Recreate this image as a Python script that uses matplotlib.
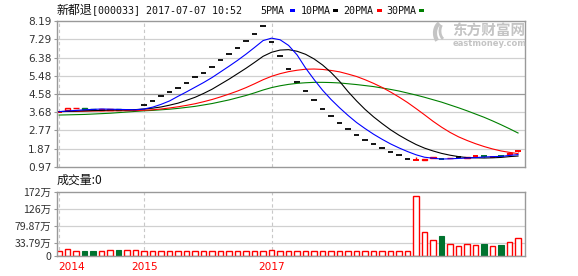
import matplotlib
matplotlib.use('Agg')
import matplotlib.pyplot as plt
from matplotlib.patches import Rectangle, Arc

# ---------------- data ----------------
opens = [3.70, 3.78, 3.87, 3.89, 3.85, 3.79, 3.80, 3.82, 3.78, 3.80,
         4.01, 4.23, 4.48, 4.67, 4.89, 5.12, 5.40, 5.63, 5.93, 6.25,
         6.54, 6.84, 7.20, 7.56, 7.95, 7.14, 6.47, 5.80, 5.18, 4.72,
         4.28, 3.82, 3.48, 3.15, 2.82, 2.54, 2.29, 2.10, 1.88, 1.68,
         1.55, 1.37, 1.30, 1.29, 1.41, 1.36, 1.38, 1.43, 1.42, 1.50,
         1.51, 1.46, 1.51, 1.58, 1.72]
closes = [3.70, 3.88, 3.89, 3.85, 3.81, 3.81, 3.83, 3.79, 3.80, 3.80,
          4.01, 4.23, 4.48, 4.67, 4.89, 5.12, 5.40, 5.63, 5.93, 6.25,
          6.54, 6.84, 7.20, 7.56, 7.95, 7.14, 6.47, 5.80, 5.18, 4.72,
          4.28, 3.82, 3.48, 3.15, 2.82, 2.54, 2.29, 2.10, 1.88, 1.68,
          1.55, 1.37, 1.30, 1.33, 1.43, 1.35, 1.40, 1.43, 1.44, 1.50,
          1.50, 1.47, 1.50, 1.66, 1.73]
highs = [3.74, 3.90, 3.89, 3.89, 3.85, 3.81, 3.83, 3.82, 3.80, 3.84,
         4.01, 4.23, 4.48, 4.67, 4.89, 5.12, 5.40, 5.63, 5.93, 6.25,
         6.54, 6.84, 7.20, 7.56, 7.95, 7.14, 6.47, 5.80, 5.18, 4.72,
         4.28, 3.82, 3.48, 3.15, 2.82, 2.54, 2.29, 2.10, 1.88, 1.68,
         1.55, 1.37, 1.46, 1.33, 1.43, 1.39, 1.40, 1.43, 1.44, 1.53,
         1.53, 1.47, 1.53, 1.67, 1.77]
lows = [3.66, 3.76, 3.87, 3.85, 3.81, 3.79, 3.80, 3.79, 3.78, 3.77,
        4.01, 4.23, 4.48, 4.67, 4.89, 5.12, 5.40, 5.63, 5.93, 6.25,
        6.54, 6.84, 7.20, 7.56, 7.95, 7.14, 6.47, 5.80, 5.18, 4.72,
        4.28, 3.82, 3.48, 3.15, 2.82, 2.54, 2.29, 2.10, 1.88, 1.68,
        1.55, 1.37, 1.30, 1.29, 1.41, 1.33, 1.38, 1.43, 1.42, 1.47,
        1.47, 1.46, 1.48, 1.57, 1.69]

ma5 = [3.70, 3.73, 3.76, 3.79, 3.81, 3.83, 3.82, 3.81, 3.80, 3.79,
       3.83, 3.92, 4.06, 4.23, 4.46, 4.68, 4.91, 5.14, 5.39, 5.67,
       5.95, 6.24, 6.55, 6.88, 7.22, 7.34, 7.26, 6.98, 6.51, 5.86,
       5.29, 4.76, 4.30, 3.89, 3.51, 3.16, 2.86, 2.58, 2.33, 2.10,
       1.90, 1.72, 1.56, 1.44, 1.39, 1.35, 1.36, 1.38, 1.40, 1.42,
       1.45, 1.47, 1.48, 1.53, 1.57]
ma10 = [3.70, 3.71, 3.73, 3.74, 3.75, 3.76, 3.78, 3.78, 3.79, 3.80,
        3.83, 3.87, 3.93, 4.02, 4.12, 4.26, 4.41, 4.60, 4.81, 5.06,
        5.31, 5.58, 5.85, 6.14, 6.44, 6.64, 6.75, 6.77, 6.69, 6.54,
        6.31, 6.01, 5.64, 5.20, 4.69, 4.23, 3.81, 3.44, 3.11, 2.80,
        2.53, 2.29, 2.07, 1.89, 1.75, 1.63, 1.54, 1.47, 1.42, 1.41,
        1.40, 1.41, 1.43, 1.47, 1.50]
ma20 = [3.70, 3.71, 3.71, 3.72, 3.73, 3.73, 3.74, 3.74, 3.75, 3.75,
        3.77, 3.79, 3.83, 3.88, 3.94, 4.01, 4.09, 4.19, 4.30, 4.43,
        4.57, 4.72, 4.89, 5.08, 5.28, 5.45, 5.58, 5.68, 5.75, 5.80,
        5.81, 5.79, 5.74, 5.67, 5.56, 5.44, 5.28, 5.10, 4.90, 4.67,
        4.42, 4.15, 3.85, 3.54, 3.22, 2.93, 2.67, 2.45, 2.27, 2.11,
        1.97, 1.85, 1.75, 1.68, 1.62]
ma30 = [3.53, 3.54, 3.55, 3.56, 3.58, 3.60, 3.62, 3.65, 3.68, 3.71,
        3.74, 3.76, 3.79, 3.82, 3.86, 3.91, 3.96, 4.03, 4.10, 4.19,
        4.28, 4.39, 4.50, 4.63, 4.77, 4.89, 4.98, 5.05, 5.10, 5.13,
        5.15, 5.15, 5.14, 5.12, 5.08, 5.04, 4.99, 4.94, 4.87, 4.80,
        4.72, 4.62, 4.52, 4.41, 4.29, 4.17, 4.03, 3.89, 3.74, 3.58,
        3.42, 3.24, 3.05, 2.85, 2.64]

volumes = [14, 19.5, 14, 12.5, 12.5, 12.5, 15, 15, 15, 15,
           12.5, 12.5, 12.5, 12.5, 12.5, 12.5, 12.5, 12.5, 12.5, 12.5,
           12.5, 12.5, 12.5, 12.5, 12.5, 17, 12.5, 12.5, 12.5, 12.5,
           12.5, 12.5, 12.5, 12.5, 12.5, 12.5, 12.5, 12.5, 14.5, 14.5,
           12.5, 12.5, 160, 63, 42, 53.5, 32, 26, 31, 28.5,
           32, 26, 29.4, 37.4, 47.3]
vol_down = [False, False, False, True, True, False, False, True, False, False,
            False, False, False, False, False, False, False, False, False, False,
            False, False, False, False, False, False, False, False, False, False,
            False, False, False, False, False, False, False, False, False, False,
            False, False, False, False, False, True, False, False, False, False,
            True, False, True, False, False]

price_ticks = [0.97, 1.87, 2.77, 3.68, 4.58, 5.48, 6.38, 7.29, 8.19]
price_labels = ['0.97', '1.87', '2.77', '3.68', '4.58', '5.48', '6.38', '7.29', '8.19']
vol_ticks = [0, 33.79, 79.87, 126, 172]
vol_labels = ['0', '33.79万', '79.87万', '126万', '172万']
year_pos = [0, 10, 25]
year_labels = ['2014', '2015', '2017']
title_cn = '新都退'
title_rest = '[000033] 2017-07-07 10:52'
legend_names = ['5PMA', '10PMA', '20PMA', '30PMA']

# ---------------- styling ----------------
W, H = 578, 276
RED = '#ff0000'
GREEN_BAR = '#00732f'
MA_COLORS = ['#0000ff', '#000000', '#ff0000', '#008000']
GRID = '#d0d0d0'
FRAME = '#999999'
WM = '#c4c4c4'
CJK = ['Noto Sans CJK SC', 'DejaVu Sans']
MONO = ['DejaVu Sans Mono', 'Noto Sans CJK SC']

fig = plt.figure(figsize=(W / 100, H / 100), dpi=100)
fig.patch.set_facecolor('white')


def fx(px):
    return px / W


def fy(py):
    return 1 - py / H


L, R = 57, 525
ax = fig.add_axes([fx(L), fy(166.7), (R - L) / W, (166.7 - 21) / H])
axv = fig.add_axes([fx(L), fy(256), (R - L) / W, (256 - 191.7) / H])

n = len(closes)
xs = list(range(n))
xlim = (-0.25, 54.82)
cw = 0.62

for a in (ax, axv):
    a.set_xlim(*xlim)
    for s in a.spines.values():
        s.set_color(FRAME)
        s.set_linewidth(1.0)
    a.set_xticks([])
    a.tick_params(axis='y', length=2.5, width=0.8, color=FRAME, pad=1.5,
                  labelsize=7.6, labelcolor='#333333')
    for p in year_pos:
        a.axvline(p, color='#c8c8c8', lw=0.8, ls=(0, (3, 2.5)), zorder=0.5)

# price axis
ax.set_ylim(price_ticks[0], price_ticks[-1])
ax.set_yticks(price_ticks)
ax.set_yticklabels(price_labels)
for t in price_ticks[1:-1]:
    col = FRAME if t == 4.58 else GRID
    ax.axhline(t, color=col, lw=0.9, zorder=0.6)

# candles
for i in xs:
    o, c, h, l = opens[i], closes[i], highs[i], lows[i]
    if h == l:
        ax.hlines(c, i - cw / 2, i + cw / 2, color='black', lw=1.3, zorder=2)
        continue
    col = RED if c >= o else GREEN_BAR
    ax.vlines(i, l, h, color=col, lw=1.0, zorder=2)
    if abs(c - o) < 0.015:
        ax.hlines(c, i - cw / 2, i + cw / 2, color=col, lw=1.4, zorder=2.1)
    elif c > o:
        ax.add_patch(Rectangle((i - cw / 2, o), cw, c - o, facecolor='white',
                               edgecolor=col, lw=1.0, zorder=2.1))
    else:
        ax.add_patch(Rectangle((i - cw / 2, c), cw, o - c, facecolor=col,
                               edgecolor=col, lw=1.0, zorder=2.1))

for ma, col in zip([ma30, ma20, ma10, ma5], MA_COLORS[::-1]):
    ax.plot(xs, ma, color=col, lw=0.8, zorder=3)

# volume axis
axv.set_ylim(0, 172)
axv.set_yticks(vol_ticks)
axv.set_yticklabels(vol_labels, family=CJK)
for t in vol_ticks[1:-1]:
    axv.axhline(t, color=GRID, lw=0.9, zorder=0.6)
for i in xs:
    if vol_down[i]:
        axv.bar(i, volumes[i], width=cw, facecolor=GREEN_BAR, edgecolor=GREEN_BAR,
                lw=0.8, zorder=2)
    else:
        axv.bar(i, volumes[i], width=cw, facecolor='white', edgecolor=RED,
                lw=1.0, zorder=2)

# year labels
for p, lab in zip(year_pos, year_labels):
    ha = 'left' if p == 0 else 'center'
    xx = p - 0.05 if p == 0 else p
    axv.text(xx, -0.17, lab, transform=axv.get_xaxis_transform(), ha=ha,
             va='center', color=RED, fontsize=7.6)

# titles
fig.text(fx(56.5), fy(10.5), title_cn, family=CJK, fontsize=8.6, va='center',
         ha='left', color='#111111')
fig.text(fx(91.5), fy(10.5), title_rest, family=MONO, fontsize=7.2, va='center',
         ha='left', color='#111111')
leg_x = [260, 300.7, 343.3, 386.7]
mark_x = [290, 333.3, 376.7, 419.3]
for lx, mx, name, col in zip(leg_x, mark_x, legend_names, MA_COLORS):
    fig.text(fx(lx), fy(10.5), name, family=MONO, fontsize=7.2, va='center',
             ha='left', color='#111111')
    fig.patches.append(Rectangle((fx(mx), fy(12)), 5 / W, 3 / H, facecolor=col,
                                 edgecolor='none', transform=fig.transFigure,
                                 figure=fig))

fig.text(fx(57), fy(180), '成交量:0', family=CJK, fontsize=8.6, va='center',
         ha='left', color='#111111')

# watermark
fig.text(fx(452), fy(30.5), '东方财富网', family=CJK, fontsize=10.5,
         fontweight='bold', va='center', ha='left', color=WM)
fig.text(fx(453), fy(43), 'eastmoney.com', family=['DejaVu Sans'], fontsize=6.0,
         fontweight='bold', va='center', ha='left', color=WM)
# swoosh logo (decorative)
for k, (cx, cy, wd, ht, t1, t2) in enumerate([(443, 33, 16, 22, 100, 250),
                                               (446, 31, 12, 18, 110, 260)]):
    fig.patches.append(Arc((fx(cx), fy(cy)), wd / W, ht / H, theta1=t1, theta2=t2,
                           color=WM, lw=3.0 - k, transform=fig.transFigure,
                           figure=fig))

fig.savefig('out.png', dpi=100, facecolor='white')
